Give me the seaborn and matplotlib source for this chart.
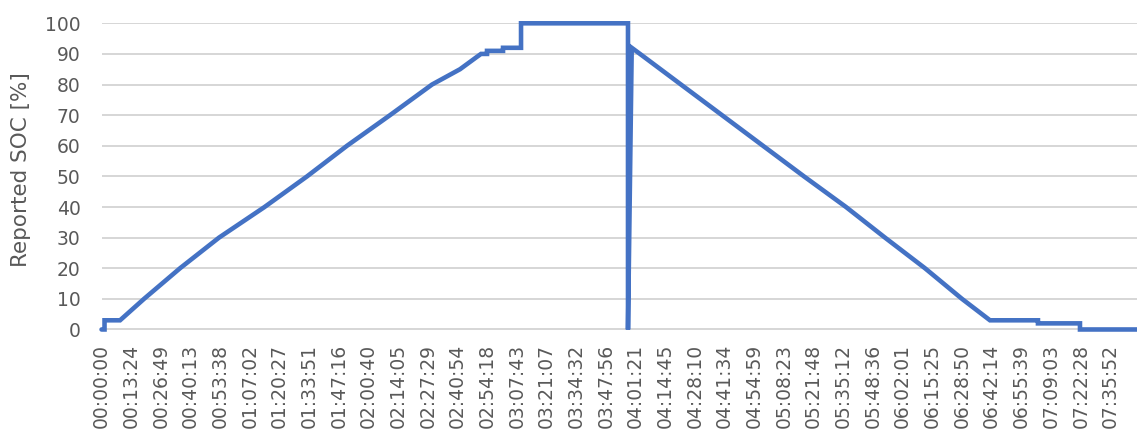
"""Reported SOC over a charge / discharge cycle, Excel-style line chart."""
import matplotlib
matplotlib.use("Agg")
import matplotlib.pyplot as plt
import pandas as pd
import seaborn as sns

# Elapsed time (s) and reported state of charge (%) at the corners of the trace,
# read off the original chart.
elapsed_s = [0, 81, 81, 502, 1152, 2128, 3185, 4419, 5571, 6655, 7821, 8960,
             9719, 10172, 10288, 10451, 10451, 10885, 10885, 11373, 11373,
             14273, 14273, 14374, 14599, 15710, 16822, 17933, 19045, 20184,
             21241, 22325, 23328, 24087, 25388, 25388, 26527, 26527, 28073]
soc_pct = [0, 0, 3, 3, 10, 20, 30, 40, 50, 60, 70, 80,
           85, 89, 90, 90, 91, 91, 92, 92, 100,
           100, 0, 92, 90, 80, 70, 60, 50, 40,
           30, 20, 10, 3, 3, 2, 2, 0, 0]

# Category labels Excel printed along the time axis.
tick_labels = [
    "00:00:00", "00:13:24", "00:26:49", "00:40:13", "00:53:38", "01:07:02",
    "01:20:27", "01:33:51", "01:47:16", "02:00:40", "02:14:05", "02:27:29",
    "02:40:54", "02:54:18", "03:07:43", "03:21:07", "03:34:32", "03:47:56",
    "04:01:21", "04:14:45", "04:28:10", "04:41:34", "04:54:59", "05:08:23",
    "05:21:48", "05:35:12", "05:48:36", "06:02:01", "06:15:25", "06:28:50",
    "06:42:14", "06:55:39", "07:09:03", "07:22:28", "07:35:52",
]
y_ticks = list(range(0, 101, 10))
x_end_s = 28073

BLUE = "#4472C4"
GREY_TXT = "#595959"
GRID = "#D0D0D0"

sns.set_theme(style="white")
plt.rcParams["font.family"] = ["DejaVu Sans"]

df = pd.DataFrame({"t": elapsed_s, "soc": soc_pct})
tick_pos = pd.to_timedelta(pd.Series(tick_labels)).dt.total_seconds()

fig = plt.figure(figsize=(11.37, 4.30), dpi=100)
# a little room under 0 so the baseline gridline is not lost on the edge
ax = fig.add_axes([0.0893, 0.2302, 0.9107, 0.7156])

sns.lineplot(data=df, x="t", y="soc", sort=False, estimator=None,
             color=BLUE, linewidth=3.3, ax=ax)
for line in ax.get_lines():
    line.set_clip_on(False)
    line.set_solid_joinstyle("miter")
    line.set_zorder(3)

ax.set_xlim(0, x_end_s)
ax.set_ylim(-0.5, 100)
ax.set_yticks(y_ticks)
ax.set_xticks(tick_pos)
ax.set_xticklabels(tick_labels, rotation=90)

ax.yaxis.grid(True, color=GRID, linewidth=1.2)
ax.set_axisbelow(True)
for s in ax.spines.values():
    s.set_visible(False)

ax.tick_params(axis="y", length=0, pad=15, labelsize=13.5, labelcolor=GREY_TXT)
ax.tick_params(axis="x", length=0, pad=9, labelsize=13.5, labelcolor=GREY_TXT)

ax.set_xlabel("")
ax.set_ylabel("Reported SOC [%]", fontsize=15.5, color=GREY_TXT)
ax.yaxis.set_label_coords(-0.068, 0.525)

fig.savefig("out.png", dpi=100)
